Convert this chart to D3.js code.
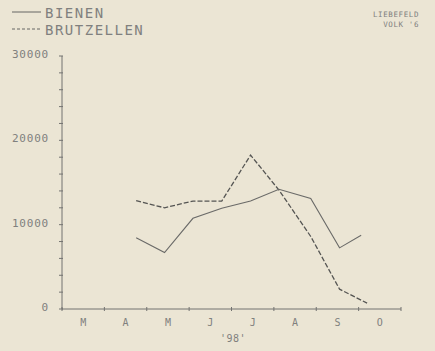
<!DOCTYPE html>
<html>
<head>
<meta charset="utf-8">
<script src="https://cdn.jsdelivr.net/npm/d3@7"></script>
<style>
  body { margin: 0; background: #ebe5d4; }
  svg { display: block; }
  text { font-family: "DejaVu Sans Mono", monospace; fill: #80807e; }
</style>
</head>
<body>
<svg id="chart"></svg>
<script>
// months shown on the x axis (position = months since 1 March)
const months = ["M", "A", "M", "J", "J", "A", "S", "O"];
const yTicks = [0, 10000, 20000, 30000];

// sampling dates, in months since 1 March
const bienenX = [1.75, 2.42, 3.09, 3.77, 4.45, 5.12, 5.87, 6.55, 7.06];
const bienen = [8450, 6700, 10750, 11950, 12800, 14200, 13100, 7250, 8750];

const brutX = [1.75, 2.42, 3.09, 3.77, 4.45, 5.12, 5.87, 6.55, 7.2];
const brut = [12850, 12000, 12800, 12800, 18250, 14100, 8600, 2350, 700];

const width = 435, height = 351;
const svg = d3.select("#chart").attr("width", width).attr("height", height);

const x = d3.scaleLinear().domain([0, 8]).range([62, 401]);
const y = d3.scaleLinear().domain([0, 30000]).range([309, 56]);

const axisColor = "#737371";

// y axis
svg.append("line")
   .attr("x1", x(0)).attr("x2", x(0))
   .attr("y1", y(0)).attr("y2", y(30000))
   .attr("stroke", axisColor).attr("stroke-width", 1);

svg.selectAll(".ytick")
   .data(d3.range(0, 30001, 2000))
   .enter().append("line")
   .attr("x1", x(0) - 3).attr("x2", x(0) + 1)
   .attr("y1", d => y(d)).attr("y2", d => y(d))
   .attr("stroke", axisColor).attr("stroke-width", 1);

svg.selectAll(".ylabel")
   .data(yTicks)
   .enter().append("text")
   .attr("x", 49)
   .attr("y", d => y(d) + 2)
   .attr("text-anchor", "end")
   .attr("font-size", "11px")
   .attr("letter-spacing", "0.8px")
   .text(d => d);

// x axis
svg.append("line")
   .attr("x1", x(0)).attr("x2", x(8))
   .attr("y1", y(0)).attr("y2", y(0))
   .attr("stroke", axisColor).attr("stroke-width", 1);

svg.selectAll(".xtick")
   .data(d3.range(0, 9))
   .enter().append("line")
   .attr("x1", d => x(d)).attr("x2", d => x(d))
   .attr("y1", y(0) - 2).attr("y2", y(0) + 2)
   .attr("stroke", axisColor).attr("stroke-width", 1);

svg.selectAll(".xlabel")
   .data(months)
   .enter().append("text")
   .attr("x", (d, i) => x(i + 0.5))
   .attr("y", 326)
   .attr("text-anchor", "middle")
   .attr("font-size", "10px")
   .text(d => d);

svg.append("text")
   .attr("x", 233).attr("y", 342)
   .attr("text-anchor", "middle")
   .attr("font-size", "10px")
   .attr("letter-spacing", "0.5px")
   .text("'98'");

// lines
const line = d3.line()
  .x(d => x(d[0]))
  .y(d => y(d[1]));

svg.append("path")
   .datum(d3.zip(brutX, brut))
   .attr("d", line)
   .attr("fill", "none")
   .attr("stroke", "#555553")
   .attr("stroke-width", 1.3)
   .attr("stroke-dasharray", "5,2");

svg.append("path")
   .datum(d3.zip(bienenX, bienen))
   .attr("d", line)
   .attr("fill", "none")
   .attr("stroke", "#6a6a68")
   .attr("stroke-width", 1.1);

// legend
const legend = [
  { label: "BIENEN", dash: null, y: 12 },
  { label: "BRUTZELLEN", dash: "3,2", y: 29 }
];
legend.forEach(l => {
  svg.append("line")
     .attr("x1", 12).attr("x2", 41)
     .attr("y1", l.y).attr("y2", l.y)
     .attr("stroke", "#666664").attr("stroke-width", 1)
     .attr("stroke-dasharray", l.dash);
  svg.append("text")
     .attr("x", 45).attr("y", l.y + 6)
     .attr("font-size", "14px")
     .attr("letter-spacing", "1.5px")
     .text(l.label);
});

// title block, top right
svg.append("text")
   .attr("x", 419).attr("y", 17)
   .attr("text-anchor", "end")
   .attr("font-size", "7.5px")
   .attr("letter-spacing", "0.6px")
   .text("LIEBEFELD");
svg.append("text")
   .attr("x", 419).attr("y", 27)
   .attr("text-anchor", "end")
   .attr("font-size", "7.5px")
   .attr("letter-spacing", "0.6px")
   .text("VOLK '6");
</script>
</body>
</html>
